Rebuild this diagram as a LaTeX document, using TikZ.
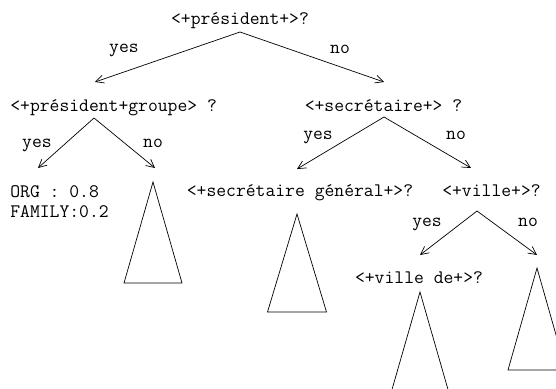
\documentclass[tikz,border=0pt]{standalone}
\usepackage{fontspec}
\usetikzlibrary{arrows.meta}

\begin{document}
\begin{tikzpicture}[x=1pt,y=-1pt,line width=0.7pt,
  txt/.style={font=\ttfamily\fontsize{19.1}{22}\selectfont,inner sep=0pt,anchor=base},
  fleche/.style={-{Straight Barb[length=8pt,width=8pt]}}]
\useasboundingbox (0,0) rectangle (556,388);
\clip (0,0) rectangle (556,388);

%questions
\node[txt] (racine) at (240,24.5) {<+président+>?};
\node[txt,anchor=base west] (groupe) at (10,111.5) {<+président+groupe> ?};
\node[txt] (secr) at (383.5,111.5) {<+secrétaire+> ?};
\node[txt] (secrgen) at (300,196.5) {<+secrétaire général+>?};
\node[txt] (ville) at (491.5,196.5) {<+ville+>?};
\node[txt] (villede) at (419,283) {<+ville de+>?};

%feuille
\node[txt,anchor=base west] (org) at (10,197.5) {ORG : 0.8};
\node[txt,anchor=base west] (family) at (10,217.5) {FAMILY:0.2};

%etiquettes des branches
\node[txt] (oui1) at (124,52) {yes};
\node[txt] (non1) at (340,53) {no};
\node[txt] (oui2) at (37,147) {yes};
\node[txt] (non2) at (153,147) {no};
\node[txt] (oui3) at (318,139) {yes};
\node[txt] (non3) at (456,139) {no};
\node[txt] (oui4) at (427,226) {yes};
\node[txt] (non4) at (528,226) {no};

%points de depart et d'arrivee des fleches
\coordinate (racine-s) at (240,32);
\coordinate (groupe-n) at (95,82);
\coordinate (secr-n) at (384,82);
\coordinate (groupe-s) at (94,118);
\coordinate (org-n) at (38,168);
\coordinate (arbre1-n) at (155,168);
\coordinate (secr-s) at (384,117);
\coordinate (secrgen-n) at (297,169);
\coordinate (ville-n) at (471,168);
\coordinate (ville-s) at (477,211);
\coordinate (villede-n) at (420,255);
\coordinate (arbre4-n) at (537,255);

\draw[fleche] (racine-s) -- (groupe-n);
\draw[fleche] (racine-s) -- (secr-n);
\draw[fleche] (groupe-s) -- (org-n);
\draw[fleche] (groupe-s) -- (arbre1-n);
\draw[fleche] (secr-s) -- (secrgen-n);
\draw[fleche] (secr-s) -- (ville-n);
\draw[fleche] (ville-s) -- (villede-n);
\draw[fleche] (ville-s) -- (arbre4-n);

%sous-arbres
\draw (153,182) -- (182,283) -- (124,283) -- cycle;
\draw (297,214) -- (326.5,312) -- (267.5,312) -- cycle;
\draw (420,292) -- (449,393) -- (391,393) -- cycle;
\draw (537,268) -- (566,370) -- (508,370) -- cycle;

\end{tikzpicture}
\end{document}
